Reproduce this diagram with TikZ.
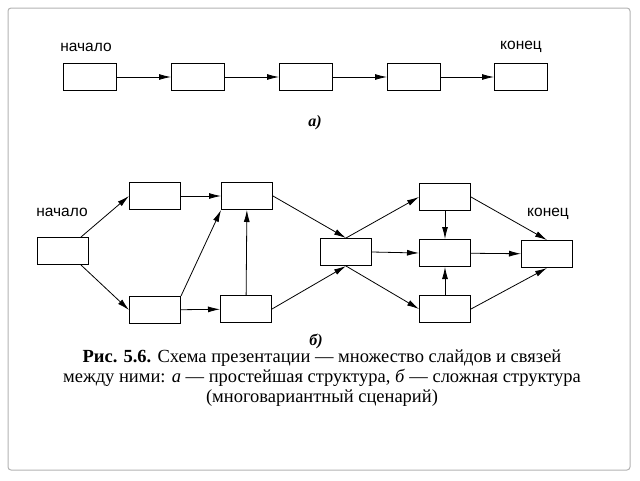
\documentclass[tikz,border=0pt]{standalone}
\usepackage{fontspec}
\setmainfont{Liberation Serif}
\setsansfont{Liberation Sans}
\usetikzlibrary{arrows.meta}
\begin{document}
\begin{tikzpicture}[x=1pt,y=-1pt,
 box/.style={draw,line width=1pt,minimum width=51pt,minimum height=27pt,inner sep=0pt},
 ar/.style={-{Latex[length=12pt,width=6pt]},line width=0.8pt},
 lbl/.style={font=\sffamily\fontsize{15.5}{16}\selectfont}]
\useasboundingbox (0,0) rectangle (640,480);
\draw[gray!60,line width=1pt,rounded corners=3pt] (8,8) rectangle (630,470);
% a)
\foreach \n/\x in {a1/90,a2/198,a3/306,a4/414,a5/521}
  \node[box,minimum width=53pt] (\n) at (\x,77) {};
\draw[ar] (a1) -- (a2); \draw[ar] (a2) -- (a3); \draw[ar] (a3) -- (a4); \draw[ar] (a4) -- (a5);
\node[lbl] (la) at (86,47) {начало};
\node[lbl] (lk) at (521,47) {конец};
\node[font=\itshape\bfseries\fontsize{16}{18}\selectfont] (ta) at (315,123) {а)};
% b)
\node[box] (s) at (63,251) {};
\node[box] (b1) at (155,196) {};
\node[box] (b2) at (247,196) {};
\node[box] (b3) at (155,310) {};
\node[box] (b4) at (246,309) {};
\node[box] (m) at (346,252) {};
\node[box] (r1) at (445,197) {};
\node[box] (r2) at (445,253) {};
\node[box] (r3) at (445,309) {};
\node[box] (e) at (547,254) {};
\draw[ar] (s.north east) ++(-8,0) coordinate (c1) -- (b1.west);
\draw[ar] (s.south east) ++(-8,0) coordinate (c2) -- (b3.west);
\draw[ar] (b1) -- (b2);
\draw[ar] (b3.north east) -- (b2.south west);
\draw[ar] (b3) -- (b4);
\draw[ar] (b4) -- (b2);
\draw[ar] (b2.east) -- (m.north);
\draw[ar] (b4.east) -- (m.south);
\draw[ar] (m.north) -- (r1.west);
\draw[ar] (m.east) -- (r2.west);
\draw[ar] (m.south) -- (r3.west);
\draw[ar] (r1) -- (r2);
\draw[ar] (r3) -- (r2);
\draw[ar] (r1.east) -- (e.north);
\draw[ar] (r2) -- (e);
\draw[ar] (r3.east) -- (e.south);
\node[lbl] (lb) at (62,212) {начало};
\node[lbl] (lc) at (548,214) {конец};
\node[font=\itshape\bfseries\fontsize{16}{18}\selectfont] (tb) at (316,341) {б)};
\node[align=center,font=\fontsize{18.5}{20}\selectfont] (cap) at (322,378)
 {\textbf{Рис. 5.6.} Схема презентации — множество слайдов и связей\\
  между ними: \textit{а} — простейшая структура, \textit{б} — сложная структура\\
  (многовариантный сценарий)};
\end{tikzpicture}
\end{document}
